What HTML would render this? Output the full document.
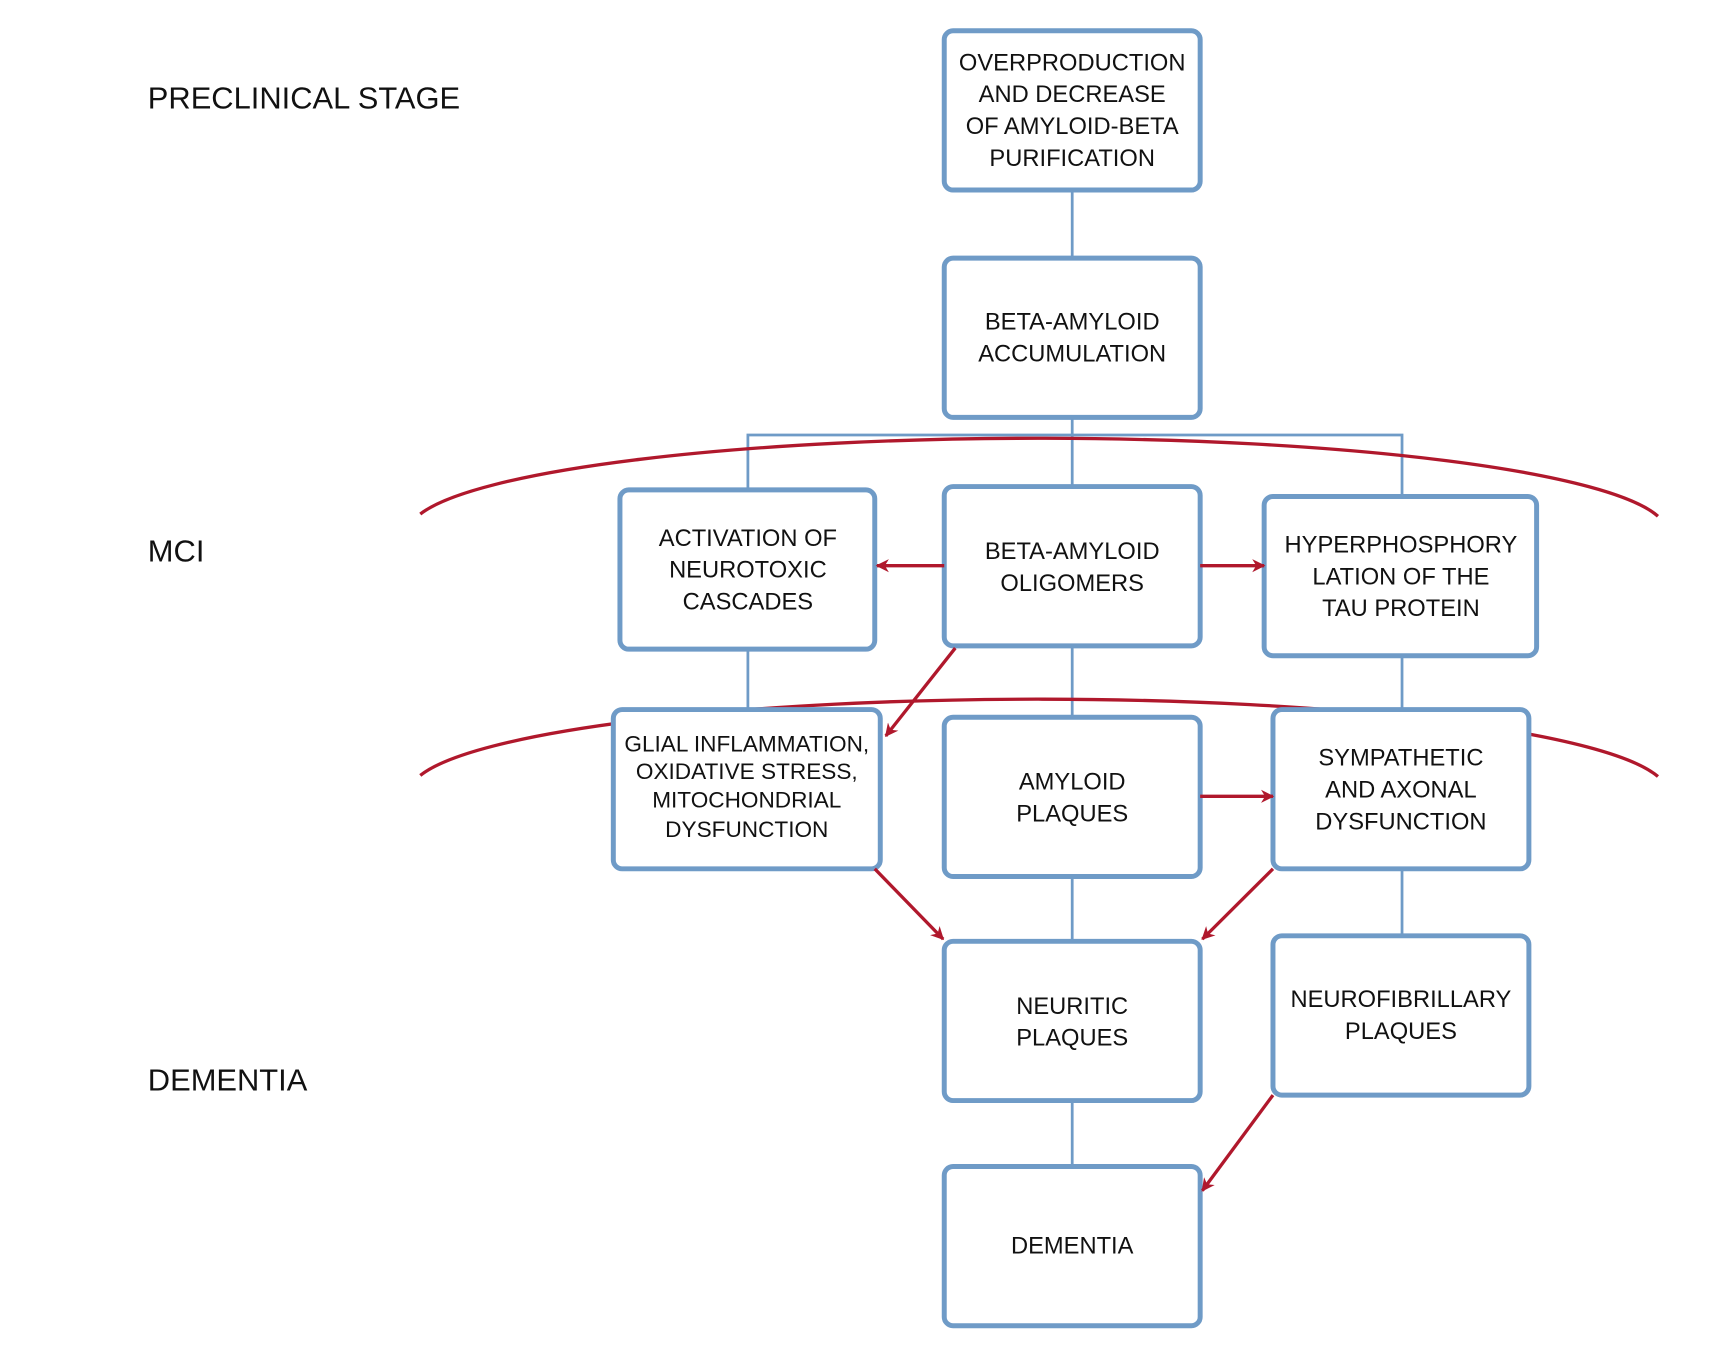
<!DOCTYPE html>
<html><head><meta charset="utf-8"><style>
html,body{margin:0;padding:0;background:#fff;}
svg{display:block;}
text{font-family:"Liberation Sans",sans-serif;fill:#111;}
.b{fill:#fff;stroke:#6f9bc7;stroke-width:4.5;}
.l{stroke:#6f9bc7;stroke-width:2.5;fill:none;}
.r{stroke:#b0182c;stroke-width:3;fill:none;}
.t{font-size:21.5px;text-anchor:middle;}
.s{font-size:28px;}
</style></head><body>
<svg width="1712" height="1362" viewBox="0 0 1552 1240" preserveAspectRatio="none" xmlns="http://www.w3.org/2000/svg">
<defs><marker id="a" viewBox="0 0 20 20" refX="18" refY="10" markerWidth="12" markerHeight="12" markerUnits="userSpaceOnUse" orient="auto"><path d="M0,0 L20,10 L0,20 L6,10 Z" fill="#b0182c"/></marker></defs>
<g class="l">
<line x1="972" y1="173" x2="972" y2="235"/>
<line x1="972" y1="380" x2="972" y2="443"/>
<polyline points="678,446 678,396 1271,396 1271,452"/>
<line x1="678" y1="591" x2="678" y2="646"/>
<line x1="972" y1="588" x2="972" y2="653"/>
<line x1="1271" y1="597" x2="1271" y2="646"/>
<line x1="972" y1="798" x2="972" y2="857"/>
<line x1="1271" y1="791" x2="1271" y2="857"/>
<line x1="972" y1="1002" x2="972" y2="1062"/>
</g>
<path class="r" d="M381,468 A570 85 0 0 1 1503,470"/>
<path class="r" d="M381,706 A570 85 0 0 1 1503,707"/>
<rect class="b" x="856" y="28" width="232" height="145" rx="8"/>
<rect class="b" x="856" y="235" width="232" height="145" rx="8"/>
<rect class="b" x="562" y="446" width="231" height="145" rx="8"/>
<rect class="b" x="856" y="443" width="232" height="145" rx="8"/>
<rect class="b" x="1146" y="452" width="247" height="145" rx="8"/>
<rect class="b" x="556" y="646" width="242" height="145" rx="8"/>
<rect class="b" x="856" y="653" width="232" height="145" rx="8"/>
<rect class="b" x="1154" y="646" width="232" height="145" rx="8"/>
<rect class="b" x="856" y="857" width="232" height="145" rx="8"/>
<rect class="b" x="1154" y="852" width="232" height="145" rx="8"/>
<rect class="b" x="856" y="1062" width="232" height="145" rx="8"/>
<g class="r" marker-end="url(#a)">
<line x1="856" y1="515" x2="795" y2="515"/>
<line x1="1088" y1="515" x2="1146" y2="515"/>
<line x1="866" y1="590" x2="803" y2="670"/>
<line x1="1088" y1="725" x2="1154" y2="725"/>
<line x1="793" y1="791" x2="855" y2="855"/>
<line x1="1154" y1="791" x2="1090" y2="855"/>
<line x1="1154" y1="997" x2="1090" y2="1084"/>
</g>
<text class="s" x="134" y="99">PRECLINICAL STAGE</text>
<text class="s" x="134" y="511">MCI</text>
<text class="s" x="134" y="993">DEMENTIA</text>
<g class="t">
<text x="972" y="64">OVERPRODUCTION</text><text x="972" y="93">AND DECREASE</text><text x="972" y="122">OF AMYLOID-BETA</text><text x="972" y="151">PURIFICATION</text>
<text x="972" y="300">BETA-AMYLOID</text><text x="972" y="329">ACCUMULATION</text>
<text x="678" y="497">ACTIVATION OF</text><text x="678" y="526">NEUROTOXIC</text><text x="678" y="555">CASCADES</text>
<text x="972" y="509">BETA-AMYLOID</text><text x="972" y="538">OLIGOMERS</text>
<text x="1270" y="503">HYPERPHOSPHORY</text><text x="1270" y="532">LATION OF THE</text><text x="1270" y="561">TAU PROTEIN</text>
<text x="677" y="684" style="font-size:20.5px">GLIAL INFLAMMATION,</text><text x="677" y="709" style="font-size:20.5px">OXIDATIVE STRESS,</text><text x="677" y="735" style="font-size:20.5px">MITOCHONDRIAL</text><text x="677" y="762" style="font-size:20.5px">DYSFUNCTION</text>
<text x="972" y="719">AMYLOID</text><text x="972" y="748">PLAQUES</text>
<text x="1270" y="697">SYMPATHETIC</text><text x="1270" y="726">AND AXONAL</text><text x="1270" y="755">DYSFUNCTION</text>
<text x="972" y="923">NEURITIC</text><text x="972" y="952">PLAQUES</text>
<text x="1270" y="917">NEUROFIBRILLARY</text><text x="1270" y="946">PLAQUES</text>
<text x="972" y="1141">DEMENTIA</text>
</g>
</svg>
</body></html>
